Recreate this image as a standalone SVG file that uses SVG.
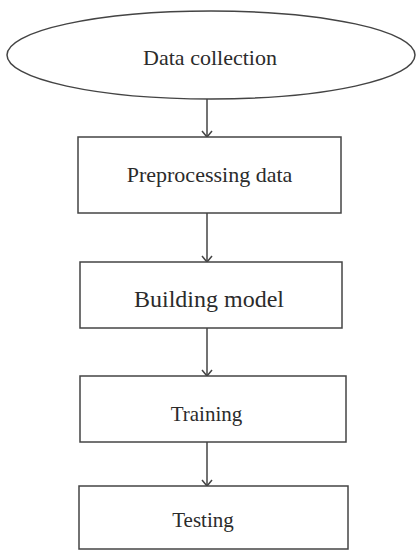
<svg xmlns="http://www.w3.org/2000/svg" width="416" height="550" viewBox="0 0 416 550">
<defs>
<style>
.shape{fill:#fff;stroke:#444;stroke-width:1.5}
.lbl{font-family:"Liberation Serif","Times New Roman",serif;fill:#2b2b2b;text-anchor:middle}
.conn{stroke:#444;stroke-width:1.5;fill:none}
</style>
<marker id="arr" markerWidth="12" markerHeight="12" refX="7" refY="6" orient="auto" markerUnits="userSpaceOnUse" viewBox="0 0 12 12">
<path d="M1,1 L7,6 L1,11" fill="none" stroke="#444" stroke-width="1.5"/>
</marker>
</defs>
<rect width="416" height="550" fill="#fff"/>
<g id="connectors">
<line class="conn" x1="207" y1="99" x2="207" y2="137" marker-end="url(#arr)"/>
<line class="conn" x1="207" y1="213" x2="207" y2="262" marker-end="url(#arr)"/>
<line class="conn" x1="207" y1="328" x2="207" y2="376" marker-end="url(#arr)"/>
<line class="conn" x1="207" y1="442" x2="207" y2="486" marker-end="url(#arr)"/>
</g>
<g id="data-collection">
<ellipse class="shape" cx="211" cy="55" rx="204" ry="44"/>
<text class="lbl" x="210" y="65" font-size="22">Data collection</text>
</g>
<g id="preprocessing">
<rect class="shape" x="78" y="137" width="263" height="76"/>
<text class="lbl" x="209.5" y="182" font-size="22">Preprocessing data</text>
</g>
<g id="building-model">
<rect class="shape" x="80" y="262" width="262" height="66"/>
<text class="lbl" x="209" y="307" font-size="24">Building model</text>
</g>
<g id="training">
<rect class="shape" x="80" y="376" width="266" height="66"/>
<text class="lbl" x="206.5" y="421" font-size="21">Training</text>
</g>
<g id="testing">
<rect class="shape" x="79" y="486" width="269" height="63"/>
<text class="lbl" x="203" y="527" font-size="21">Testing</text>
</g>
</svg>
